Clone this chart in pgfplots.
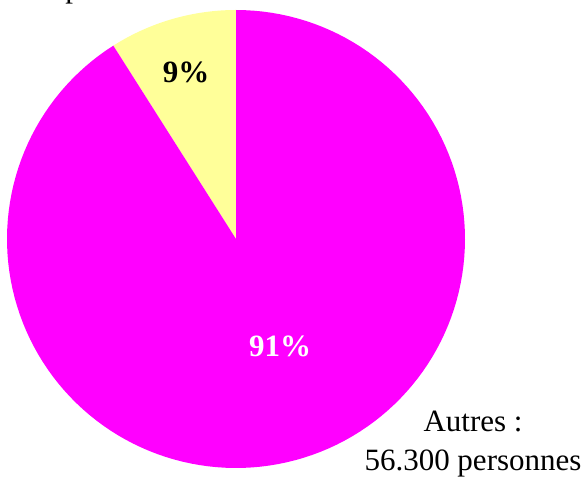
\documentclass[border=0pt]{standalone}
\usepackage{pgfplots}
\pgfplotsset{compat=1.18}
\usepackage{fontspec}
\setmainfont{Liberation Serif}
\definecolor{piemag}{HTML}{FF00FF}
\definecolor{pieyel}{HTML}{FFFF99}
% shares in percent
\def\shareA{9}   % yellow
\def\shareB{91}  % magenta
\begin{document}
\begin{tikzpicture}
\pgfmathsetmacro{\aStart}{90}
\pgfmathsetmacro{\aMid}{90+3.6*\shareA}
\pgfmathsetmacro{\aEnd}{\aMid+3.6*\shareB}
\begin{axis}[
  scale only axis, width=588pt, height=481pt,
  xmin=0, xmax=588, ymin=0, ymax=481,
  hide axis,
]
% pie centre (236,242), radius 229
\addplot[fill=pieyel, draw=none, domain=\aStart:\aMid, samples=40]
  ({236+229*cos(x)},{242+229*sin(x)}) -- (236,242) -- cycle;
\addplot[fill=piemag, draw=none, domain=\aMid:\aEnd, samples=150]
  ({236+229*cos(x)},{242+229*sin(x)}) -- (236,242) -- cycle;
\node[font=\fontsize{31}{37}\selectfont\bfseries] at (186,409) {9\%};
\node[font=\fontsize{31}{37}\selectfont\bfseries, text=white] at (280,135) {91\%};
\node[font=\fontsize{31}{39}\selectfont, align=center] at (473,37) {Autres :\\56.300 personnes};
\node[font=\fontsize{31}{37}\selectfont, anchor=base] at (73,483) {p};
\end{axis}
\pgfresetboundingbox
\path[use as bounding box] (current axis.south west) rectangle (current axis.north east);
\end{tikzpicture}
\end{document}
